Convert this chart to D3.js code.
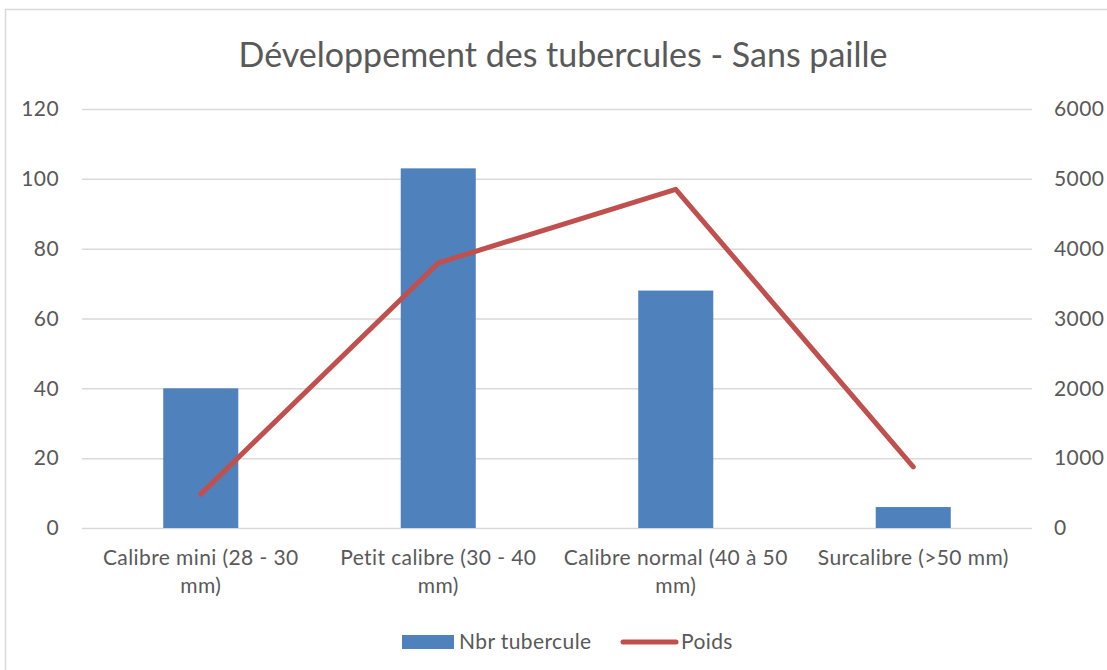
<!DOCTYPE html>
<html>
<head>
<meta charset="utf-8">
<script src="https://cdn.jsdelivr.net/npm/d3@7"></script>
<style>
  body { margin: 0; background: #fff; }
  svg text { font-family: Lato, "Open Sans", sans-serif; }
  .tick text { fill: #595959; font-size: 21px; letter-spacing: 0.4px; }
  .legend text { fill: #595959; font-size: 21px; letter-spacing: 0.4px; }
</style>
</head>
<body>
<script>
//chart values
var categories = ["Calibre mini (28 - 30 mm)", "Petit calibre (30 - 40 mm)", "Calibre normal (40 à 50 mm)", "Surcalibre (>50 mm)"];
var nbrTubercule = [40, 103, 68, 6];
var poids = [485, 3795, 4850, 875];
var leftTicks = [0, 20, 40, 60, 80, 100, 120];
var rightTicks = [0, 1000, 2000, 3000, 4000, 5000, 6000];
var seriesNames = ["Nbr tubercule", "Poids"];

var width = 1107, height = 670;
var margin = { top: 109, right: 75, bottom: 142, left: 82 };
var plotW = width - margin.left - margin.right,
    plotH = height - margin.top - margin.bottom;

var svg = d3.select("body").append("svg")
    .attr("width", width)
    .attr("height", height);

//chart frame
svg.append("rect")
    .attr("x", 5.5).attr("y", 9.5)
    .attr("width", 1120).attr("height", 680)
    .attr("fill", "#fff")
    .attr("stroke", "#d9d9d9")
    .attr("stroke-width", 1.5);

svg.append("text")
    .attr("x", 563).attr("y", 67)
    .attr("text-anchor", "middle")
    .attr("fill", "#595959")
    .style("font-size", "34px")
    .text("Développement des tubercules - Sans paille");

var g = svg.append("g")
    .attr("transform", "translate(" + margin.left + "," + margin.top + ")");

var x = d3.scaleBand().domain(categories).range([0, plotW]);
var yL = d3.scaleLinear().domain([0, 120]).range([plotH, 0]);
var yR = d3.scaleLinear().domain([0, 6000]).range([plotH, 0]);

//gridlines + left axis
var leftAxis = g.append("g")
    .call(d3.axisLeft(yL).tickValues(leftTicks).tickSize(-plotW).tickPadding(23));
leftAxis.select(".domain").remove();
leftAxis.selectAll("line").attr("stroke", "#d9d9d9").attr("stroke-width", 1.5);

var rightAxis = g.append("g")
    .attr("transform", "translate(" + plotW + ",0)")
    .call(d3.axisRight(yR).tickValues(rightTicks).tickFormat(d3.format("d")).tickSize(0).tickPadding(22));
rightAxis.select(".domain").remove();

//bars
var barW = x.bandwidth() * 0.316;
g.selectAll(".bar")
    .data(nbrTubercule)
    .enter()
    .append("rect")
    .attr("class", "bar")
    .attr("x", function(d, i){ return x(categories[i]) + x.bandwidth() / 2 - barW / 2; })
    .attr("y", function(d){ return yL(d); })
    .attr("width", barW)
    .attr("height", function(d){ return plotH - yL(d); })
    .attr("fill", "#4f81bd");

//line
var line = d3.line()
    .x(function(d, i){ return x(categories[i]) + x.bandwidth() / 2; })
    .y(function(d){ return yR(d); });
g.append("path")
    .datum(poids)
    .attr("d", line)
    .attr("fill", "none")
    .attr("stroke", "#c0504d")
    .attr("stroke-width", 5)
    .attr("stroke-linecap", "round")
    .attr("stroke-linejoin", "round");

//x axis labels
var xAxis = g.append("g")
    .attr("transform", "translate(0," + plotH + ")")
    .call(d3.axisBottom(x).tickSize(0).tickPadding(22));
xAxis.select(".domain").remove();
xAxis.selectAll("text").call(wrap, 227);

function wrap(text, w){
    text.each(function(){
        var t = d3.select(this),
            words = t.text().split(/\s+/).reverse(),
            word, lineArr = [], lineNo = 0,
            y = t.attr("y"), dy = parseFloat(t.attr("dy")) || 0;
        var tspan = t.text(null).append("tspan").attr("x", 0).attr("y", y).attr("dy", dy + "em");
        while (word = words.pop()){
            lineArr.push(word);
            tspan.text(lineArr.join(" "));
            if (tspan.node().getComputedTextLength() > w && lineArr.length > 1){
                lineArr.pop();
                tspan.text(lineArr.join(" "));
                lineArr = [word];
                tspan = t.append("tspan").attr("x", 0).attr("y", y)
                    .attr("dy", (++lineNo * 1.35 + dy) + "em").text(word);
            }
        }
    });
}

//legend
var legend = svg.append("g").attr("class", "legend");
legend.append("rect")
    .attr("x", 402).attr("y", 635).attr("width", 52).attr("height", 14)
    .attr("fill", "#4f81bd");
legend.append("text")
    .attr("x", 459).attr("y", 649)
    .text(seriesNames[0]);
legend.append("line")
    .attr("x1", 623).attr("x2", 676).attr("y1", 642).attr("y2", 642)
    .attr("stroke", "#c0504d").attr("stroke-width", 5).attr("stroke-linecap", "round");
legend.append("text")
    .attr("x", 681).attr("y", 649)
    .text(seriesNames[1]);
</script>
</body>
</html>
